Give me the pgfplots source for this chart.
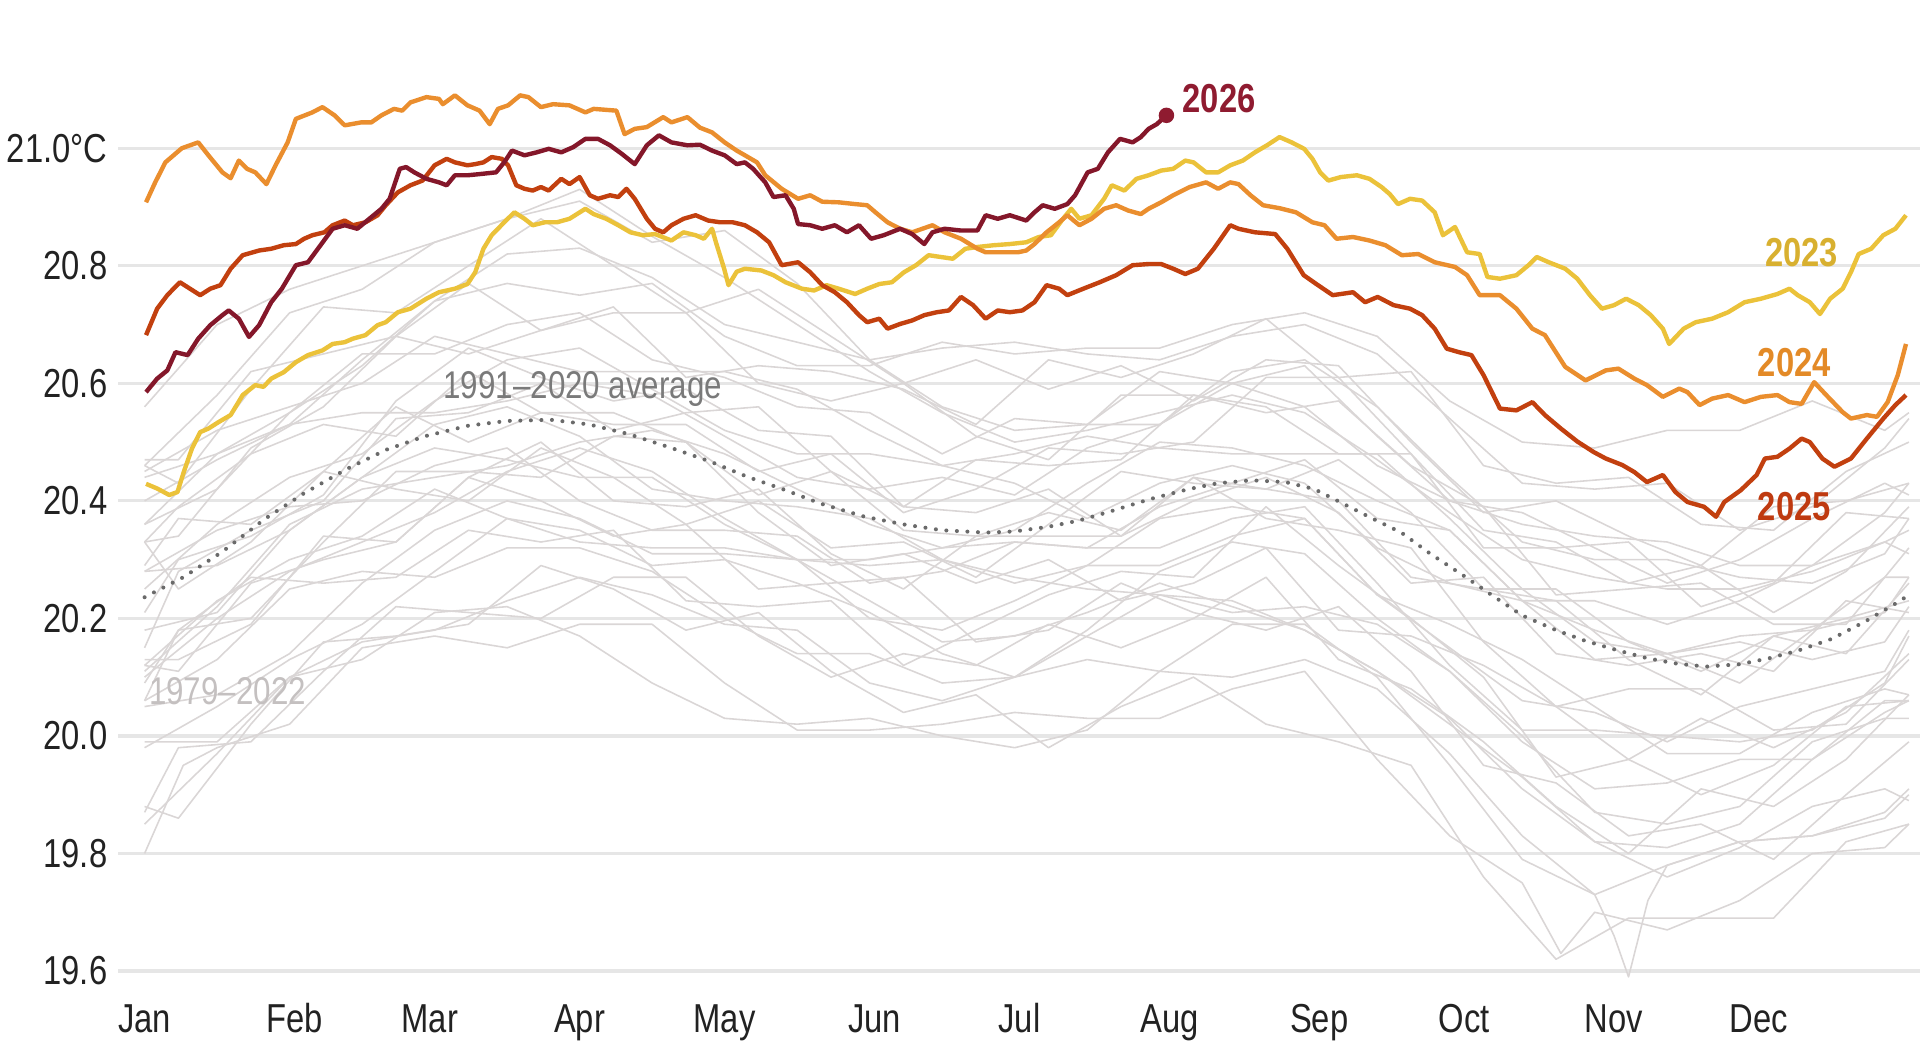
\documentclass[border=0pt]{standalone}
\usepackage{pgfplots}
\usepackage{pgfplotstable}
\pgfplotsset{compat=1.18}
\usepackage{fontspec}
\setmainfont{Liberation Sans}[FakeStretch=0.81]
\definecolor{c23}{HTML}{EBC23A}
\definecolor{c23t}{HTML}{D8B030}
\definecolor{c24}{HTML}{EA8E2E}
\definecolor{c24t}{HTML}{E38A27}
\definecolor{c25}{HTML}{C2400F}
\definecolor{c25t}{HTML}{BF3A10}
\definecolor{c26}{HTML}{84172A}
\definecolor{c26t}{HTML}{8F1B30}
\definecolor{avgc}{HTML}{6A6A6A}
\definecolor{avgt}{HTML}{7A7A7A}
\definecolor{grayl}{HTML}{DAD6D6}
\definecolor{grayt}{HTML}{C4C0C0}
\definecolor{gridc}{HTML}{E6E6E6}
\definecolor{tickc}{HTML}{222222}

\pgfplotstableread{
d L3 L4 L5 L6 L7 L8 L9 L10 L11 L12 L13 L14 L15 L16 L17 L18 L19 L20
0 19.85 19.98 20.12 20.06 20.05 20.10 20.28 20.18 20.28 20.11 20.25 20.45 20.44 20.36 20.36 20.40 20.46 20.56
15 19.97 20.05 20.23 20.13 20.07 20.20 20.29 20.21 20.35 20.22 20.36 20.52 20.48 20.42 20.48 20.47 20.58 20.70
30 20.10 20.13 20.30 20.25 20.14 20.28 20.35 20.35 20.39 20.36 20.44 20.56 20.53 20.55 20.55 20.53 20.72 20.76
45 20.16 20.19 20.34 20.28 20.26 20.33 20.44 20.44 20.40 20.42 20.48 20.60 20.55 20.65 20.63 20.64 20.76 20.80
60 20.18 20.28 20.42 20.27 20.35 20.38 20.53 20.49 20.46 20.44 20.57 20.68 20.55 20.65 20.74 20.74 20.84 20.84
75 20.23 20.37 20.37 20.32 20.40 20.45 20.56 20.47 20.49 20.46 20.64 20.65 20.57 20.70 20.82 20.77 20.88 20.88
90 20.27 20.35 20.33 20.32 20.37 20.49 20.51 20.44 20.40 20.50 20.66 20.62 20.60 20.72 20.83 20.75 20.91 20.93
105 20.24 20.29 20.32 20.28 20.31 20.45 20.42 20.44 20.35 20.52 20.59 20.62 20.58 20.64 20.78 20.77 20.84 20.85
120 20.19 20.30 20.32 20.20 20.31 20.37 20.40 20.36 20.35 20.48 20.52 20.62 20.51 20.61 20.70 20.68 20.86 20.78
135 20.18 20.26 20.30 20.14 20.30 20.30 20.39 20.30 20.34 20.42 20.48 20.59 20.44 20.56 20.67 20.63 20.77 20.70
150 20.09 20.21 20.23 20.14 20.20 20.29 20.37 20.30 20.26 20.36 20.48 20.52 20.42 20.55 20.64 20.63 20.64 20.62
165 20.06 20.14 20.16 20.09 20.18 20.30 20.30 20.32 20.28 20.32 20.46 20.46 20.44 20.48 20.56 20.67 20.66 20.55
180 20.10 20.10 20.17 20.10 20.23 20.27 20.26 20.33 20.33 20.35 20.43 20.48 20.41 20.54 20.52 20.65 20.67 20.50
195 20.17 20.13 20.21 20.18 20.29 20.25 20.29 20.32 20.32 20.43 20.37 20.51 20.49 20.53 20.53 20.66 20.65 20.52
210 20.24 20.11 20.26 20.28 20.29 20.24 20.37 20.32 20.39 20.50 20.43 20.49 20.53 20.53 20.62 20.66 20.64 20.55
225 20.23 20.10 20.22 20.33 20.34 20.21 20.39 20.37 20.43 20.49 20.46 20.48 20.62 20.60 20.60 20.70 20.68 20.58
240 20.18 20.13 20.18 20.31 20.37 20.22 20.37 20.39 20.47 20.46 20.43 20.48 20.64 20.63 20.56 20.72 20.70 20.55
255 20.11 20.08 20.11 20.20 20.24 20.19 20.24 20.26 20.37 20.40 20.32 20.48 20.56 20.51 20.46 20.68 20.65 20.47
270 20.02 19.97 20.03 20.11 20.15 20.11 20.19 20.12 20.35 20.35 20.26 20.37 20.44 20.40 20.40 20.57 20.54 20.38
285 19.93 19.83 19.91 20.00 20.06 19.99 20.13 20.01 20.23 20.23 20.23 20.25 20.33 20.36 20.38 20.50 20.43 20.30
300 19.82 19.73 19.82 19.87 20.04 19.91 20.05 20.01 20.13 20.23 20.18 20.16 20.30 20.34 20.32 20.49 20.42 20.27
315 19.81 19.78 19.76 19.85 19.99 19.92 19.97 20.00 20.14 20.19 20.14 20.14 20.30 20.33 20.26 20.52 20.43 20.25
330 19.85 19.82 19.81 19.88 20.05 19.96 19.97 19.99 20.16 20.23 20.09 20.17 20.27 20.29 20.30 20.52 20.35 20.25
345 19.96 19.83 19.88 19.99 20.08 19.96 20.04 20.01 20.13 20.29 20.18 20.18 20.26 20.29 20.37 20.57 20.39 20.28
360 20.04 19.87 19.91 20.03 20.11 20.06 20.08 20.09 20.16 20.33 20.27 20.21 20.31 20.38 20.43 20.52 20.49 20.33
365 20.06 19.91 19.89 20.03 20.18 20.06 20.07 20.17 20.22 20.31 20.27 20.27 20.37 20.43 20.41 20.55 20.54 20.35
}\grays

\pgfplotstableread{
d M1 M2 M3 M4 M5 M6 M7 M8 M9 M10 M11 M12 M13 M14
0 19.88 19.87 20.12 20.09 20.06 20.13 20.29 20.33 20.21 20.15 20.33 20.47 20.33 20.46
7 19.86 19.98 20.11 20.18 20.18 20.13 20.37 20.25 20.30 20.28 20.39 20.47 20.34 20.43
22 20.02 19.99 20.26 20.27 20.20 20.19 20.36 20.33 20.34 20.35 20.48 20.62 20.49 20.59
37 20.16 20.11 20.30 20.26 20.33 20.34 20.45 20.45 20.41 20.40 20.53 20.65 20.56 20.73
52 20.17 20.22 20.33 20.27 20.45 20.33 20.56 20.42 20.57 20.54 20.51 20.68 20.68 20.72
67 20.19 20.21 20.44 20.35 20.45 20.44 20.50 20.40 20.66 20.55 20.62 20.77 20.65 20.80
82 20.29 20.20 20.40 20.33 20.44 20.50 20.55 20.49 20.61 20.60 20.55 20.69 20.69 20.88
97 20.25 20.27 20.34 20.35 20.51 20.40 20.55 20.44 20.57 20.52 20.53 20.72 20.73 20.80
112 20.18 20.27 20.36 20.23 20.50 20.39 20.50 20.36 20.59 20.55 20.53 20.72 20.61 20.72
127 20.21 20.17 20.25 20.22 20.38 20.42 20.41 20.40 20.52 20.56 20.45 20.60 20.63 20.76
142 20.11 20.10 20.26 20.23 20.29 20.31 20.45 20.32 20.51 20.45 20.48 20.57 20.62 20.68
157 20.04 20.14 20.27 20.12 20.31 20.25 20.35 20.33 20.39 20.39 20.38 20.60 20.59 20.60
172 20.07 20.12 20.16 20.18 20.26 20.34 20.34 20.27 20.38 20.47 20.42 20.51 20.53 20.64
187 19.98 20.19 20.18 20.24 20.30 20.34 20.38 20.36 20.42 20.46 20.49 20.47 20.64 20.59
202 20.05 20.15 20.26 20.28 20.23 20.34 20.35 20.45 20.34 20.47 20.48 20.58 20.61 20.63
217 20.10 20.20 20.21 20.27 20.26 20.44 20.44 20.43 20.40 20.58 20.50 20.58 20.65 20.57
232 20.02 20.27 20.18 20.39 20.32 20.42 20.37 20.42 20.44 20.56 20.61 20.55 20.71 20.64
247 19.99 20.13 20.22 20.29 20.18 20.40 20.35 20.47 20.38 20.48 20.61 20.57 20.61 20.63
262 19.95 20.08 20.11 20.20 20.17 20.27 20.32 20.38 20.26 20.48 20.48 20.46 20.62 20.50
277 19.76 19.99 19.95 20.10 20.12 20.25 20.16 20.25 20.27 20.32 20.35 20.39 20.46 20.38
292 19.62 19.88 19.92 19.93 20.05 20.23 20.05 20.25 20.14 20.32 20.33 20.24 20.43 20.40
307 19.69 19.80 19.83 19.96 19.96 20.13 20.08 20.16 20.12 20.33 20.26 20.25 20.44 20.34
322 19.69 19.91 19.85 19.90 20.03 20.07 20.08 20.11 20.14 20.22 20.29 20.26 20.36 20.29
337 19.69 19.88 19.79 19.95 19.98 20.17 20.01 20.17 20.11 20.26 20.21 20.19 20.35 20.39
352 19.82 19.96 19.90 20.05 20.04 20.20 20.02 20.14 20.23 20.38 20.28 20.19 20.45 20.40
365 19.85 20.07 19.99 20.06 20.14 20.23 20.13 20.26 20.21 20.37 20.39 20.32 20.50 20.43
}\graysb

\begin{document}
\begin{tikzpicture}
\path[use as bounding box] (-1.18,-0.586) rectangle (18.02,10.004);
\begin{axis}[
  at={(0,0)}, anchor=south west,
  scale only axis, width=18.02cm, height=9.403cm,
  xmin=-5.5, xmax=367.3, ymin=19.55, ymax=21.15,
  axis line style={draw=none},
  major tick length=0pt, tick style={draw=none},
  ytick={19.6,19.8,20.0,20.2,20.4,20.6,20.8,21.0},
  yticklabels={19.6,19.8,20.0,20.2,20.4,20.6,20.8,21.0°C},
  xtick={0,31,59,90,120,151,181,212,243,273,304,334},
  xticklabels={Jan,Feb,Mar,Apr,May,Jun,Jul,Aug,Sep,Oct,Nov,Dec},
  ymajorgrids, grid style={draw=gridc, line width=0.9pt},
  tick label style={font=\fontsize{11.5}{13}\selectfont, text=tickc},
  yticklabel style={anchor=east, inner sep=0pt, xshift=-0.1cm},
  xticklabel style={anchor=base, inner sep=0pt, yshift=-0.318cm},
  clip=false,
  every axis plot/.append style={line join=round, no markers},
]
% ---- 1979-2022 years (grey) ----
\addplot[grayl, line width=0.45pt] coordinates {(0,19.80)(8,19.95)(15,19.98)(30,20.02)(45,20.15)(60,20.17)(75,20.15)(90,20.19)(105,20.19)(120,20.09)(135,20.01)(150,20.01)(165,20.02)(180,20.04)(195,20.03)(210,20.03)(225,20.08)(240,20.11)(255,19.96)(270,19.83)(285,19.75)(293,19.63)(300,19.70)(315,19.67)(330,19.72)(345,19.80)(360,19.81)(365,19.85)};
\addplot[grayl, line width=0.45pt] coordinates {(0,19.99)(15,19.99)(30,20.10)(45,20.13)(60,20.21)(75,20.22)(90,20.17)(105,20.09)(120,20.03)(135,20.02)(150,20.03)(165,20.00)(180,19.98)(195,20.01)(210,20.11)(225,20.19)(240,20.19)(255,20.10)(270,19.95)(285,19.79)(300,19.73)(304,19.66)(307,19.59)(311,19.72)(315,19.78)(330,19.82)(345,19.83)(360,19.86)(365,19.90)};
\pgfplotsinvokeforeach{L3,L4,L5,L6,L7,L8,L9,L10,L11,L12,L13,L14,L15,L16,L17,L18,L19,L20}{
  \addplot[grayl, line width=0.45pt] table[x=d, y=#1] {\grays};
}
\pgfplotsinvokeforeach{M1,M2,M3,M4,M5,M6,M7,M8,M9,M10,M11,M12,M13,M14}{
  \addplot[grayl, line width=0.45pt] table[x=d, y=#1] {\graysb};
}
\node[anchor=west, font=\fontsize{11}{13}\selectfont, text=grayt, inner sep=0pt] at (axis cs:0.8,20.077) {1979–2022};

% ---- 1991-2020 average ----
\addplot[avgc, line width=1.15pt, line cap=round, dash pattern=on 0pt off 3pt] coordinates {(0,20.236)(8,20.27)(16,20.313)(25,20.37)(33,20.413)(42,20.455)(50,20.487)(58,20.51)(67,20.528)(75,20.536)(84,20.538)(92,20.53)(100,20.514)(109,20.49)(117,20.467)(125,20.44)(132,20.42)(140,20.395)(149,20.373)(157,20.36)(165,20.35)(174,20.346)(180,20.348)(187,20.356)(193,20.366)(199,20.38)(208,20.403)(216,20.42)(222,20.43)(229,20.435)(236,20.432)(242,20.42)(248,20.395)(254,20.37)(260,20.346)(266,20.31)(273,20.272)(279,20.238)(285,20.205)(292,20.18)(298,20.162)(305,20.145)(311,20.132)(317,20.123)(323,20.118)(330,20.122)(336,20.132)(342,20.145)(349,20.165)(356,20.195)(363,20.229)(365,20.24)};
\node[anchor=west, font=\fontsize{11}{13}\selectfont, text=avgt, inner sep=0pt] at (axis cs:61.7,20.590) {1991–2020 average};

% ---- 2023 ----
\addplot[c23, line width=1.25pt] coordinates {(0.3,20.429)(2.6,20.421)(5.1,20.410)(6.8,20.415)(8.1,20.449)(9.8,20.489)(11.5,20.517)(13.2,20.523)(15.3,20.534)(17.8,20.546)(20.3,20.580)(22.9,20.597)(24.6,20.594)(26.2,20.608)(28.8,20.619)(31.3,20.636)(33.8,20.648)(36.8,20.656)(38.9,20.667)(41.4,20.670)(43.1,20.676)(45.7,20.682)(48.2,20.699)(49.9,20.704)(52.4,20.721)(55.0,20.727)(58.3,20.744)(60.9,20.755)(64.2,20.761)(66.8,20.769)(68.4,20.789)(70.1,20.829)(71.8,20.852)(74.4,20.874)(76.5,20.891)(78.6,20.880)(80.3,20.869)(82.8,20.874)(85.3,20.874)(87.9,20.880)(91.2,20.897)(92.9,20.888)(95.5,20.880)(98.0,20.869)(100.5,20.857)(103.1,20.852)(105.6,20.854)(109.0,20.843)(111.5,20.857)(114.0,20.852)(115.7,20.846)(117.4,20.863)(118.2,20.840)(119.9,20.795)(120.8,20.767)(122.5,20.790)(124.2,20.795)(127.6,20.792)(130.1,20.784)(132.6,20.772)(136.0,20.761)(138.5,20.758)(141.1,20.767)(143.6,20.761)(147.0,20.752)(149.5,20.761)(152.0,20.769)(154.6,20.772)(157.1,20.789)(159.6,20.801)(162.2,20.818)(164.7,20.815)(167.2,20.812)(169.8,20.829)(172.3,20.832)(175.7,20.835)(179.0,20.837)(182.4,20.840)(185.0,20.849)(187.5,20.852)(190.0,20.880)(191.7,20.897)(193.4,20.880)(195.9,20.886)(198.5,20.914)(200.1,20.937)(202.7,20.928)(205.2,20.948)(207.7,20.954)(210.3,20.962)(212.8,20.965)(215.3,20.979)(217.0,20.976)(219.6,20.959)(222.1,20.959)(224.6,20.971)(227.2,20.979)(229.7,20.993)(232.2,21.005)(234.8,21.019)(237.3,21.010)(239.9,20.999)(241.6,20.982)(243.2,20.959)(244.9,20.945)(247.5,20.951)(250.8,20.954)(253.4,20.948)(255.9,20.934)(257.6,20.922)(259.3,20.905)(261.8,20.914)(264.3,20.911)(266.9,20.891)(268.6,20.852)(271.1,20.866)(273.6,20.823)(276.2,20.820)(277.8,20.781)(280.4,20.778)(283.8,20.784)(286.3,20.801)(288.0,20.815)(290.5,20.806)(293.9,20.795)(296.4,20.778)(299.0,20.750)(301.5,20.727)(304.0,20.733)(306.5,20.744)(309.1,20.733)(311.6,20.716)(314.1,20.693)(315.4,20.667)(318.4,20.693)(320.9,20.704)(324.3,20.710)(327.6,20.721)(331.0,20.738)(334.4,20.744)(337.8,20.752)(340.3,20.761)(342.0,20.750)(344.5,20.738)(346.6,20.718)(348.7,20.744)(351.3,20.761)(353.0,20.789)(354.6,20.820)(357.2,20.829)(359.7,20.852)(362.2,20.863)(364.4,20.886)};

% ---- 2024 ----
\addplot[c24, line width=1.25pt] coordinates {(0.3,20.908)(2.2,20.942)(4.3,20.976)(7.7,21.0)(11.1,21.010)(13.2,20.988)(16.1,20.959)(17.8,20.949)(19.5,20.979)(21.2,20.965)(22.9,20.959)(25.2,20.939)(27.1,20.971)(29.6,21.010)(31.3,21.050)(34.7,21.061)(36.8,21.070)(39.3,21.056)(41.4,21.039)(44.8,21.044)(46.9,21.044)(49.0,21.056)(51.6,21.067)(53.3,21.064)(55.0,21.078)(58.3,21.087)(60.9,21.084)(61.7,21.075)(64.2,21.090)(66.8,21.073)(69.3,21.064)(71.4,21.041)(73.1,21.067)(75.2,21.073)(77.7,21.090)(79.4,21.087)(82.0,21.070)(84.5,21.075)(87.9,21.073)(91.2,21.061)(92.9,21.067)(97.6,21.064)(99.3,21.024)(101.4,21.033)(103.9,21.036)(107.3,21.053)(109.0,21.044)(112.3,21.053)(114.9,21.035)(117.4,21.027)(120.0,21.010)(122.5,20.996)(124.2,20.988)(126.7,20.976)(128.4,20.954)(131.8,20.931)(135.2,20.914)(137.7,20.920)(140.2,20.909)(143.6,20.908)(147.0,20.905)(149.5,20.903)(151.2,20.891)(153.7,20.874)(156.3,20.863)(158.8,20.857)(160.9,20.863)(163.0,20.869)(165.5,20.857)(168.9,20.846)(172.3,20.829)(174.0,20.823)(177.4,20.823)(180.7,20.823)(182.4,20.826)(184.1,20.837)(186.6,20.857)(189.2,20.874)(190.9,20.886)(193.4,20.869)(195.9,20.880)(198.5,20.897)(201.0,20.903)(203.5,20.894)(206.1,20.888)(207.7,20.897)(210.3,20.908)(212.8,20.920)(216.2,20.934)(219.6,20.942)(222.1,20.931)(224.6,20.942)(226.3,20.939)(228.8,20.920)(231.4,20.903)(234.8,20.898)(238.2,20.891)(241.6,20.874)(244.1,20.869)(246.6,20.846)(250.0,20.849)(253.4,20.843)(256.7,20.835)(260.1,20.818)(263.5,20.820)(266.9,20.806)(271.1,20.798)(273.6,20.784)(276.2,20.750)(280.4,20.750)(283.8,20.727)(287.1,20.693)(289.7,20.682)(293.9,20.628)(298.1,20.605)(302.3,20.622)(304.9,20.625)(308.2,20.608)(310.8,20.597)(314.1,20.577)(317.5,20.591)(319.2,20.585)(321.7,20.563)(324.3,20.574)(327.6,20.580)(331.0,20.568)(334.4,20.577)(337.8,20.580)(340.3,20.568)(342.8,20.565)(345.4,20.602)(347.9,20.580)(351.3,20.551)(353.0,20.540)(356.3,20.546)(358.4,20.543)(360.6,20.568)(362.7,20.614)(364.4,20.667)};

% ---- 2025 ----
\addplot[c25, line width=1.25pt] coordinates {(0.3,20.682)(2.6,20.727)(4.7,20.750)(7.3,20.772)(9.4,20.761)(11.5,20.750)(13.6,20.761)(15.7,20.767)(17.8,20.795)(20.3,20.818)(23.7,20.826)(26.2,20.829)(28.8,20.835)(31.3,20.837)(33.0,20.846)(34.7,20.852)(37.2,20.857)(38.9,20.869)(41.4,20.877)(43.1,20.869)(45.7,20.874)(48.2,20.886)(49.9,20.903)(52.4,20.925)(55.0,20.937)(57.5,20.945)(60.0,20.971)(62.5,20.982)(64.2,20.976)(66.8,20.971)(68.4,20.973)(70.1,20.976)(71.8,20.985)(73.9,20.982)(75.2,20.971)(76.9,20.937)(78.6,20.931)(80.3,20.928)(82.0,20.934)(83.6,20.928)(86.2,20.948)(87.9,20.939)(90.0,20.951)(92.1,20.920)(93.8,20.914)(96.3,20.920)(98.0,20.917)(99.7,20.931)(101.4,20.914)(103.9,20.880)(105.6,20.863)(107.3,20.857)(109.0,20.869)(111.5,20.880)(114.0,20.886)(116.6,20.877)(119.1,20.874)(121.7,20.874)(124.2,20.869)(126.7,20.857)(129.2,20.840)(131.8,20.801)(135.2,20.806)(137.7,20.789)(140.2,20.767)(142.8,20.755)(145.3,20.738)(147.8,20.716)(149.5,20.704)(152.0,20.710)(153.7,20.693)(156.3,20.701)(158.8,20.707)(161.3,20.716)(163.9,20.721)(166.4,20.724)(168.9,20.747)(171.4,20.733)(174.0,20.710)(176.5,20.724)(179.0,20.721)(181.6,20.724)(184.1,20.738)(186.6,20.767)(189.2,20.761)(190.9,20.750)(194.2,20.761)(197.6,20.772)(201.0,20.784)(204.4,20.801)(207.7,20.803)(210.3,20.803)(212.8,20.795)(215.3,20.786)(217.9,20.795)(221.2,20.829)(224.6,20.869)(226.3,20.863)(229.7,20.857)(233.9,20.854)(236.4,20.829)(239.8,20.784)(242.4,20.769)(245.8,20.750)(250.0,20.755)(252.5,20.738)(255.1,20.747)(258.4,20.733)(261.8,20.727)(264.3,20.716)(266.9,20.693)(269.4,20.659)(271.9,20.653)(274.5,20.648)(277.0,20.614)(280.4,20.557)(283.8,20.554)(287.1,20.568)(289.7,20.546)(293.0,20.523)(296.4,20.501)(299.8,20.483)(302.3,20.472)(305.7,20.461)(308.2,20.449)(310.8,20.432)(314.1,20.444)(316.7,20.415)(319.2,20.398)(322.6,20.390)(325.1,20.373)(326.8,20.398)(330.2,20.418)(333.5,20.444)(335.2,20.472)(337.8,20.475)(340.3,20.489)(342.8,20.506)(344.5,20.500)(347.1,20.472)(349.6,20.458)(353.0,20.472)(356.3,20.506)(359.7,20.540)(362.2,20.563)(364.4,20.580)};

% ---- 2026 ----
\addplot[c26, line width=1.25pt] coordinates {(0.3,20.585)(2.6,20.608)(4.7,20.622)(6.4,20.653)(8.9,20.648)(11.1,20.676)(13.6,20.699)(16.1,20.716)(17.4,20.724)(19.5,20.710)(21.6,20.679)(23.7,20.699)(26.2,20.738)(28.4,20.761)(31.3,20.801)(33.8,20.806)(36.4,20.835)(38.9,20.863)(41.4,20.869)(44.0,20.863)(46.5,20.880)(49.0,20.897)(50.7,20.914)(52.8,20.965)(54.1,20.968)(55.8,20.959)(58.3,20.948)(60.9,20.942)(62.5,20.937)(64.2,20.954)(66.8,20.954)(69.3,20.956)(72.7,20.959)(74.4,20.976)(76.0,20.996)(78.6,20.988)(81.1,20.993)(83.6,20.999)(86.2,20.993)(88.7,21.002)(91.2,21.016)(93.8,21.016)(96.3,21.005)(98.8,20.990)(101.4,20.973)(103.9,21.005)(106.4,21.022)(109.0,21.010)(112.3,21.005)(114.9,21.006)(117.4,20.996)(120.0,20.988)(122.5,20.973)(124.2,20.976)(125.9,20.965)(128.4,20.942)(130.1,20.917)(132.6,20.920)(134.3,20.897)(135.2,20.871)(137.7,20.869)(140.2,20.863)(142.8,20.869)(145.3,20.857)(147.8,20.869)(150.3,20.846)(152.9,20.852)(156.3,20.863)(158.8,20.854)(161.3,20.837)(163.0,20.857)(165.5,20.863)(168.9,20.860)(172.3,20.860)(174.0,20.886)(176.5,20.880)(179.0,20.886)(182.4,20.877)(184.1,20.891)(185.8,20.903)(188.3,20.897)(190.9,20.905)(192.5,20.920)(195.1,20.959)(197.2,20.965)(199.3,20.993)(201.8,21.016)(204.4,21.010)(206.1,21.019)(207.7,21.033)(209.4,21.041)(211.4,21.056)};
\addplot[only marks, mark=*, mark size=2pt, color=c26t] coordinates {(211.4,21.056)};

\node[anchor=west, font=\bfseries\fontsize{11.5}{13}\selectfont, text=c26t, inner sep=0pt] at (axis cs:214.6,21.085) {2026};
\node[anchor=center, font=\bfseries\fontsize{11.5}{13}\selectfont, text=c23t, inner sep=0pt] at (axis cs:342.8,20.823) {2023};
\node[anchor=center, font=\bfseries\fontsize{11.5}{13}\selectfont, text=c24t, inner sep=0pt] at (axis cs:341.3,20.636) {2024};
\node[anchor=center, font=\bfseries\fontsize{11.5}{13}\selectfont, text=c25t, inner sep=0pt] at (axis cs:341.3,20.390) {2025};
\end{axis}
\end{tikzpicture}
\end{document}
